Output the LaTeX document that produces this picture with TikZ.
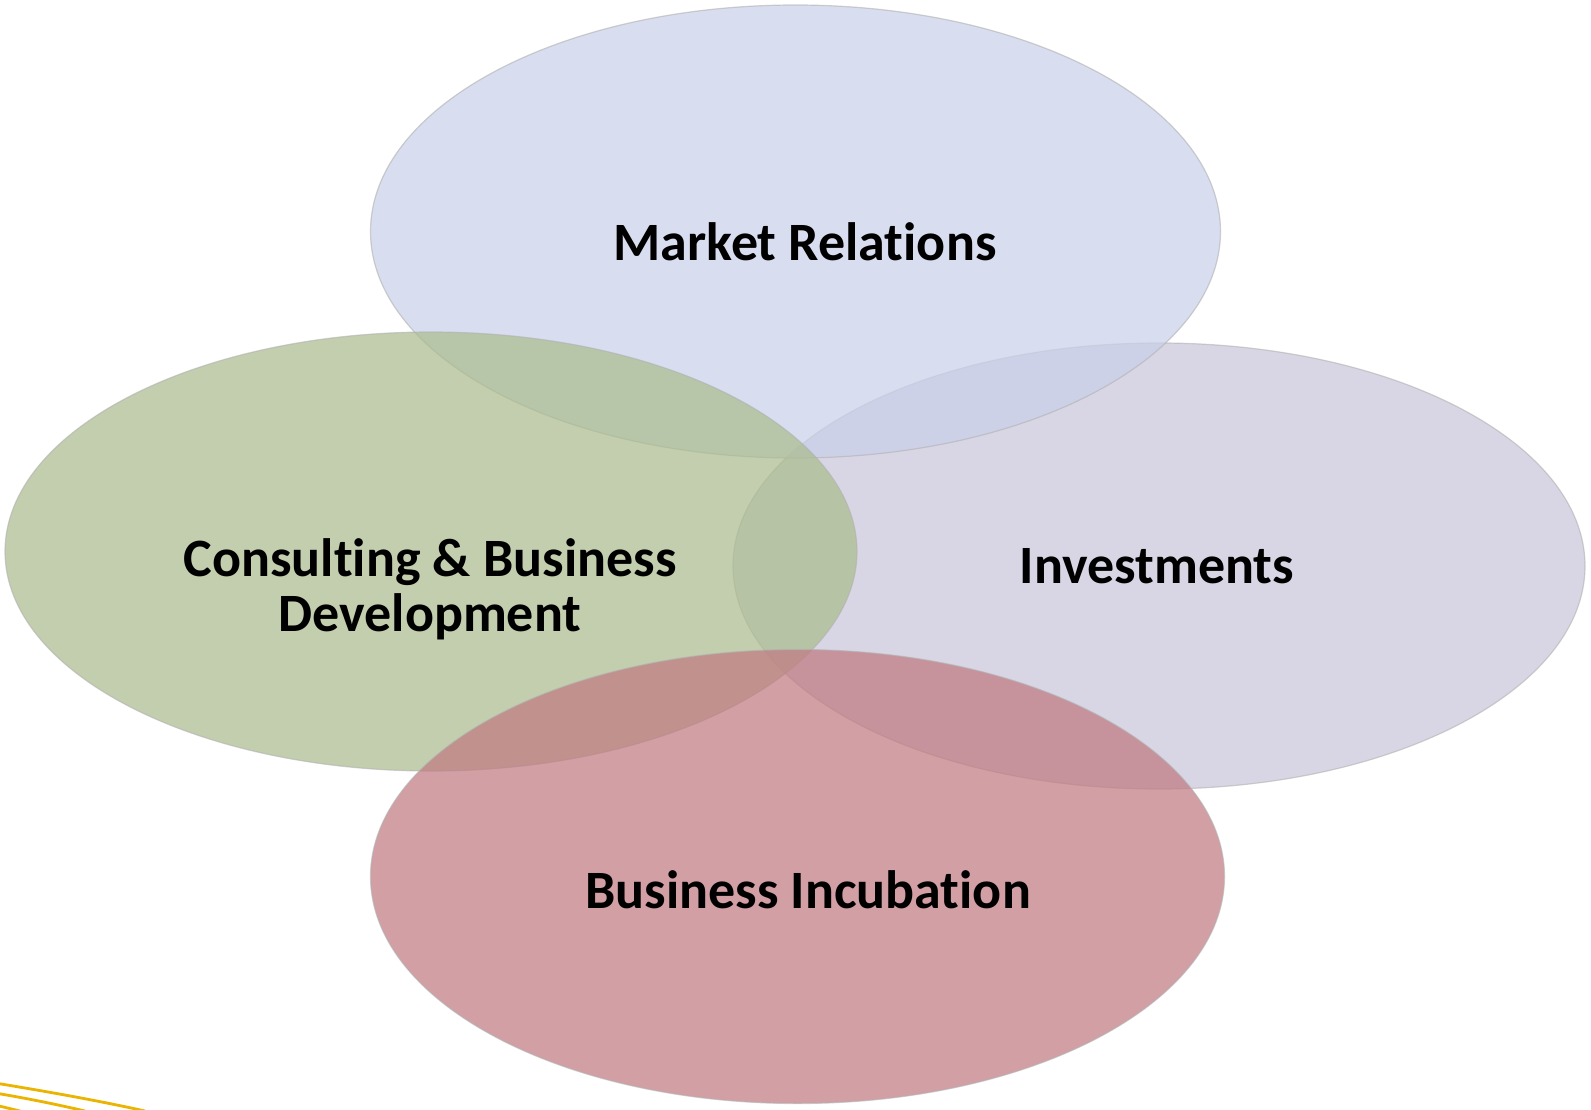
\documentclass[tikz,border=0pt]{standalone}
\usepackage{fontspec}
\setmainfont{Carlito}[Ligatures={NoCommon}]
\usetikzlibrary{shapes.geometric}
\definecolor{mrfill}{HTML}{C9D0EA}
\definecolor{invfill}{HTML}{CAC7DA}
\definecolor{cbdfill}{HTML}{ABBC8E}
\definecolor{bifill}{HTML}{C07A81}
\definecolor{goldline}{HTML}{EAB400}
\tikzset{
  bubble/.style={ellipse, inner sep=0pt, outer sep=0pt, fill opacity=0.72,
    draw=black!30, line width=1.2pt, draw opacity=0.6},
  label/.style={font=\fontsize{54}{56}\selectfont\bfseries, text=black, inner sep=0pt, align=center},
  gold/.style={draw=goldline, line width=2.8pt}
}
\begin{document}
\begin{tikzpicture}[x=1pt,y=-1pt]
\useasboundingbox (0,0) rectangle (1591,1109);
\fill[white] (0,0) rectangle (1591,1109);
% ellipses
\node[bubble, fill=invfill, minimum width=852pt, minimum height=446pt] (inv) at (1159,566) {};
\node[bubble, fill=mrfill, minimum width=850pt, minimum height=453pt] (mr) at (795.5,231.5) {};
\node[bubble, fill=cbdfill, minimum width=852pt, minimum height=439pt] (cbd) at (431,551.5) {};
\node[bubble, fill=bifill, minimum width=854pt, minimum height=454pt] (bi) at (797.5,876.5) {};
% texts
\node[label, anchor=base] (mrt) at (805,260) {Market Relations};
\node[label, anchor=base] (invt) at (1157,583) {Investments};
\node[label, anchor=base] (bit) at (808,908) {Business Incubation};
\node[label, anchor=base] (cbdt1) at (430,576) {Consulting \& Business};
\node[label, anchor=base] (cbdt2) at (430,631) {Development};
% gold lines
\begin{scope}
\clip (0,0) rectangle (1591,1109);
\draw[gold] (-5,1083) .. controls (50,1092) and (100,1101) .. (145,1111);
\draw[gold] (-5,1093) .. controls (25,1098) and (55,1104) .. (85,1111);
\draw[gold] (-5,1105) -- (20,1111);
\end{scope}
\end{tikzpicture}
\end{document}
